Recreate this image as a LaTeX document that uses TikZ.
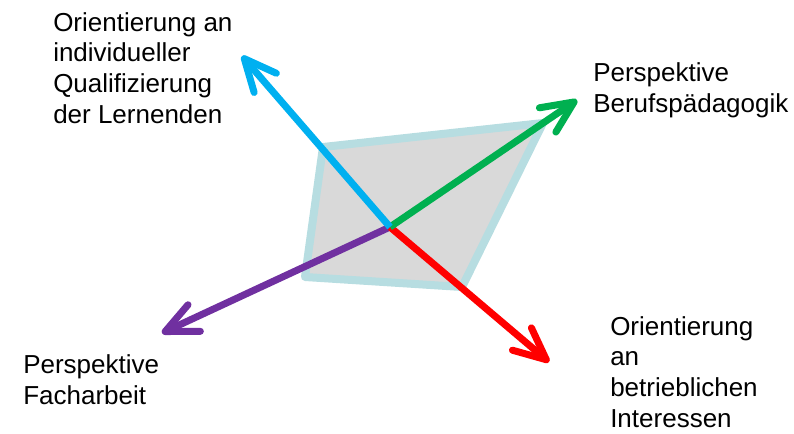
\documentclass[tikz,border=0pt]{standalone}
\usepackage{fontspec}
\setmainfont{Liberation Sans}
\usetikzlibrary{arrows.meta}

\definecolor{hellblau}{HTML}{00B0F0}
\definecolor{gruen}{HTML}{00B050}
\definecolor{rot}{HTML}{FF0000}
\definecolor{lila}{HTML}{7030A0}
\definecolor{rand}{HTML}{B7DDE1}
\definecolor{flaeche}{HTML}{D9D9D9}

\begin{document}
\begin{tikzpicture}[x=0.75pt,y=-0.75pt, >={Straight Barb[round,length=24pt,width=22pt]},
  txt/.style={anchor=base west, align=left, inner sep=0pt, font=\fontsize{19.5pt}{23pt}\selectfont}]
\useasboundingbox (0,0) rectangle (794,433);
\coordinate (0) at (390,227);
\coordinate (tl) at (242,56);
\coordinate (tr) at (577,100);
\coordinate (br) at (549,362);
\coordinate (bl) at (162,333);
% grey area
\coordinate (qa) at (323,147);
\coordinate (qb) at (543,123);
\coordinate (qc) at (462,287);
\coordinate (qd) at (305,277);
\draw[rand, fill=flaeche, line width=6pt, line join=round] (qa) -- (qb) -- (qc) -- (qd) -- cycle;
\draw[->, lila, line width=5.25pt] (0) -- (bl);
\draw[->, rot, line width=5.25pt] (0) -- (br);
\draw[->, gruen, line width=5.25pt] (0) -- (tr);
\draw[->, hellblau, line width=5.25pt] (0) -- (tl);
% labels, placed by the baseline of their last line
\node (otl) at (53,123) [txt] {Orientierung an\\individueller\\Qualifizierung\\der Lernenden};
\node (otr) at (593,112) [txt] {Perspektive\\Berufspädagogik};
\node (obr) at (610,427) [txt] {Orientierung\\an\\betrieblichen\\Interessen};
\node (obl) at (23,404) [txt] {Perspektive\\Facharbeit};
\end{tikzpicture}
\end{document}
